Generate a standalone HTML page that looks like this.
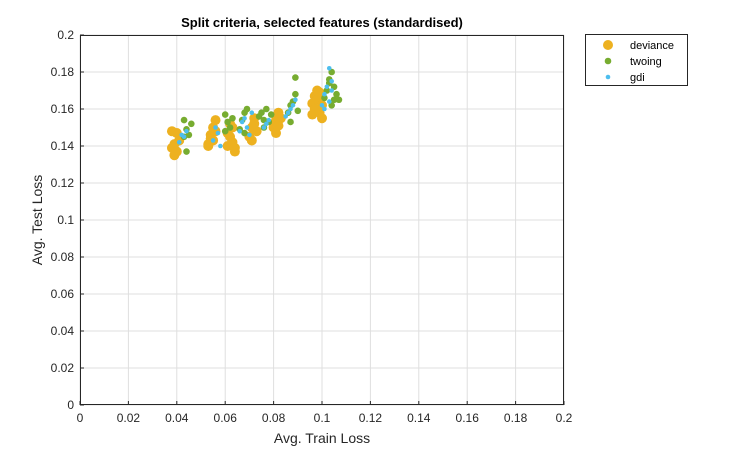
<!DOCTYPE html>
<html><head><meta charset="utf-8"><style>
body{margin:0;background:#fff;font-family:"Liberation Sans",sans-serif;}
</style></head><body>
<svg id="chart" width="742" height="454" xmlns="http://www.w3.org/2000/svg"></svg>
<script>
const xTicks=[0,0.02,0.04,0.06,0.08,0.1,0.12,0.14,0.16,0.18,0.2];
const yTicks=[0,0.02,0.04,0.06,0.08,0.1,0.12,0.14,0.16,0.18,0.2];
const devX=[0.038,0.039,0.040,0.039,0.038,0.041,0.040,0.053,0.054,0.055,0.056,0.054,0.053,0.055,0.056,0.061,0.062,0.063,0.064,0.062,0.063,0.061,0.064,0.070,0.071,0.072,0.073,0.071,0.072,0.080,0.081,0.082,0.083,0.081,0.082,0.096,0.097,0.098,0.099,0.100,0.097,0.098,0.099,0.096,0.100];
const devY=[0.139,0.135,0.147,0.141,0.148,0.143,0.137,0.141,0.146,0.150,0.154,0.144,0.140,0.143,0.148,0.140,0.145,0.150,0.137,0.152,0.142,0.147,0.139,0.145,0.150,0.155,0.148,0.143,0.152,0.150,0.154,0.158,0.155,0.147,0.151,0.163,0.167,0.170,0.158,0.155,0.160,0.165,0.169,0.157,0.162];
const twoX=[0.043,0.044,0.045,0.046,0.044,0.043,0.060,0.061,0.062,0.060,0.063,0.066,0.067,0.068,0.069,0.068,0.074,0.075,0.076,0.077,0.078,0.079,0.076,0.086,0.087,0.088,0.089,0.090,0.087,0.089,0.101,0.102,0.103,0.104,0.105,0.106,0.104,0.103,0.105,0.107];
const twoY=[0.154,0.149,0.146,0.152,0.137,0.145,0.157,0.153,0.150,0.148,0.155,0.149,0.154,0.158,0.160,0.147,0.156,0.158,0.154,0.160,0.153,0.157,0.150,0.158,0.162,0.164,0.177,0.159,0.153,0.168,0.166,0.170,0.176,0.180,0.172,0.168,0.162,0.174,0.165,0.165];
const gdiX=[0.041,0.042,0.043,0.044,0.055,0.056,0.057,0.058,0.066,0.067,0.068,0.069,0.070,0.071,0.076,0.077,0.078,0.085,0.086,0.087,0.088,0.089,0.100,0.101,0.102,0.103,0.104,0.103,0.101,0.104];
const gdiY=[0.142,0.146,0.145,0.148,0.143,0.150,0.147,0.140,0.148,0.153,0.155,0.150,0.146,0.158,0.150,0.152,0.154,0.156,0.158,0.160,0.162,0.165,0.162,0.168,0.172,0.182,0.170,0.164,0.160,0.175];
const NS="http://www.w3.org/2000/svg",svg=document.getElementById('chart');
const L=80,R=564,T=35,B=405;
const sx=v=>L+(v-0)/(0.2)*(R-L), sy=v=>B-(v-0)/(0.2)*(B-T);
function mk(t,a,p){const e=document.createElementNS(NS,t);for(const k in a)e.setAttribute(k,a[k]);(p||svg).appendChild(e);return e;}
const bg=mk('rect',{x:L,y:T,width:R-L,height:B-T,fill:'#fff'});


xTicks.forEach(v=>{const x=sx(v);
 const g=mk('line',{x1:x,x2:x,y1:T,y2:B,stroke:'#dfdfdf','stroke-width':1});
 
 mk('line',{x1:x,x2:x,y1:B,y2:B-4,stroke:'#262626'});
 const t=mk('text',{x:x,y:B+17,'text-anchor':'middle','font-size':12,fill:'#262626'});t.textContent=v;
 });
yTicks.forEach(v=>{const y=sy(v);
 const g=mk('line',{x1:L,x2:R,y1:y,y2:y,stroke:'#dfdfdf','stroke-width':1});
 
 mk('line',{x1:L,x2:L+4,y1:y,y2:y,stroke:'#262626'});
 const t=mk('text',{x:L-6,y:y+4,'text-anchor':'end','font-size':12,fill:'#262626'});t.textContent=v;
 });
const fr=mk('rect',{x:L+0.5,y:T+0.5,width:R-L-1,height:B-T-1,fill:'none',stroke:'#262626','stroke-width':1});

function series(xs,ys,r,c,name){xs.forEach((v,i)=>{const e=mk('circle',{cx:sx(v),cy:sy(ys[i]),r:r,fill:c});
 });}
series(devX,devY,5,'#EDB120','deviance');
series(twoX,twoY,3.3,'#77AC30','twoing');
series(gdiX,gdiY,2.3,'#4DBEEE','gdi');
function txt(s,a,n){const t=mk('text',a);t.textContent=s;return t;}
txt('Split criteria, selected features (standardised)',{x:322,y:27,'text-anchor':'middle','font-size':13,'font-weight':'bold',fill:'#000'},'chart-title');
txt('Avg. Train Loss',{x:322,y:443,'text-anchor':'middle','font-size':14,fill:'#262626'},'x-axis-title');
txt('Avg. Test Loss',{x:42,y:220,'text-anchor':'middle','font-size':14,fill:'#262626',transform:'rotate(-90 42 220)'},'y-axis-title');
const lg=mk('g',{});
mk('rect',{x:585.5,y:34.5,width:102,height:51,fill:'#fff',stroke:'#262626'},lg);
[['deviance',5,'#EDB120'],['twoing',3.3,'#77AC30'],['gdi',2.3,'#4DBEEE']].forEach((d,i)=>{const y=45+i*16;
 const c=mk('circle',{cx:608,cy:y,r:d[1],fill:d[2]},lg);
 const t=mk('text',{x:630,y:y+4,'font-size':11,fill:'#000'},lg);t.textContent=d[0];});
</script>
</body></html>
